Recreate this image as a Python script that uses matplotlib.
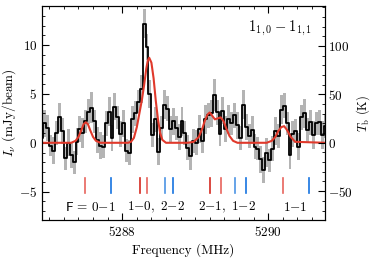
import numpy as np
import matplotlib
matplotlib.use("Agg")
import matplotlib.pyplot as plt
from matplotlib.ticker import MultipleLocator

plt.rcParams['font.family'] = 'serif'
plt.rcParams['font.serif'] = ['cmr10']
plt.rcParams['mathtext.fontset'] = 'cm'
plt.rcParams['axes.formatter.use_mathtext'] = True
plt.rcParams['font.size'] = 9.5

# spectrum, channels of 0.04 MHz starting at 5286.90 MHz
f0 = 5286.90
dchan = 0.04
flux = [0.5, 2.0, 1.5, -0.3, -0.8, 1.0, 2.6, 1.2, -1.6, 0.0,
        -1.3, -2.0, 0.1, 1.4, 1.0, 2.2, 3.2, 3.6, 2.2, 0.3,
        -0.3, -0.4, 2.0, 3.2, 0.5, 3.7, 2.6, 0.9, 2.0, -0.8,
        -1.0, 2.4, 3.0, 4.2, 5.5, 12.2, 9.8, 5.0, 0.8, 2.4,
        -0.9, 1.5, 3.9, 3.5, 1.4, 2.2, 1.5, 0.6, 2.2, 1.0,
        -0.5, -1.4, 0.2, 0.0, 1.4, 0.2, 2.4, 2.8, 3.0, 4.9,
        3.1, 0.9, 3.3, 1.4, 2.4, 2.0, 2.8, 1.8, 0.5, 3.9,
        1.6, 0.7, 1.3, -0.4, -0.6, -1.7, -2.8, -1.0, -1.8, -0.6,
        1.2, 0.7, 3.4, 3.8, 2.0, -1.3, 0.9, 1.2, -0.4, 2.6,
        3.0, 1.3, 2.1, 0.8, 2.0, 2.1, 0.8, 1.7]
flux_err = [1.2, 1.4, 1.3, 1.1, 1.4, 1.2, 1.5, 1.3, 1.2, 1.4,
            1.3, 1.2, 1.4, 1.3, 1.5, 1.2, 1.3, 1.6, 1.2, 1.3,
            1.4, 1.2, 1.3, 1.5, 1.3, 1.4, 1.2, 1.3, 1.4, 1.2,
            1.3, 1.4, 1.3, 1.2, 1.4, 1.5, 1.3, 1.4, 1.2, 1.3,
            1.4, 1.2, 1.5, 1.3, 1.3, 1.4, 1.2, 1.3, 1.5, 1.2,
            1.3, 1.4, 1.2, 1.3, 1.4, 1.2, 1.5, 1.3, 1.4, 1.6,
            1.3, 1.2, 1.4, 1.3, 1.5, 1.2, 1.3, 1.4, 1.2, 1.5,
            1.3, 1.2, 1.4, 1.3, 1.2, 1.4, 1.3, 1.5, 1.2, 1.3,
            1.4, 1.2, 1.5, 1.3, 1.2, 1.4, 1.3, 1.2, 1.4, 1.3,
            1.5, 1.2, 1.3, 1.4, 1.2, 1.3, 1.4, 1.2]
freq = f0 + dchan * np.arange(len(flux))

# fitted model
model_freq = [5286.90, 5287.30, 5287.36, 5287.40, 5287.44, 5287.47, 5287.50,
              5287.53, 5287.56, 5287.60, 5287.64, 5287.70,
              5288.08, 5288.12, 5288.16, 5288.20, 5288.24, 5288.27, 5288.30,
              5288.33, 5288.35, 5288.37, 5288.40, 5288.43, 5288.46, 5288.49,
              5288.52, 5288.55, 5288.60,
              5288.90, 5288.98, 5289.05, 5289.10, 5289.13, 5289.17, 5289.20,
              5289.23, 5289.27, 5289.31, 5289.35, 5289.39, 5289.43, 5289.47,
              5289.52, 5289.58,
              5289.98, 5290.05, 5290.10, 5290.14, 5290.18, 5290.22, 5290.26,
              5290.31, 5290.37, 5290.78]
model_flux = [0.0, 0.0, 0.2, 0.6, 1.3, 1.9, 2.1,
              1.9, 1.3, 0.6, 0.2, 0.0,
              0.0, 0.1, 0.5, 1.6, 3.2, 4.4, 5.9,
              7.6, 8.4, 8.7, 8.2, 6.6, 4.3, 2.4,
              1.0, 0.3, 0.0,
              0.0, 0.1, 0.6, 1.5, 2.2, 2.9, 3.1,
              2.8, 2.4, 2.5, 2.6, 2.2, 1.4, 0.7,
              0.2, 0.0,
              0.0, 0.2, 0.6, 1.2, 1.6, 1.7, 1.3,
              0.6, 0.1, 0.0]

# hyperfine component positions
red_lines = [5287.49, 5288.24, 5288.34, 5289.20, 5289.35, 5290.20]
red_cols = ['#e8645c', '#d42a20', '#e8645c', '#d42a20', '#e8645c', '#e8645c']
blue_lines = [5287.84, 5288.59, 5288.69, 5289.55, 5289.70, 5290.56]
blue_cols = ['#1573e0', '#4c94e4', '#1573e0', '#4c94e4', '#1573e0', '#1573e0']

labels = [r'$\mathsf{F}\,=\,0{-}1$', r'$1{-}0,\ 2{-}2$', r'$2{-}1,\ 1{-}2$', r'$1{-}1$']
label_x = [5287.56, 5288.46, 5289.44, 5290.37]

fig = plt.figure(figsize=(3.73, 2.59), dpi=100)
ax = fig.add_axes([0.1126, 0.1506, 0.7587, 0.8264])

lo = np.array(flux) - np.array(flux_err)
hi = np.array(flux) + np.array(flux_err)
ax.fill_between(freq, lo, hi, step='mid', color='#b4b4b4', lw=0)
ax.step(freq, flux, where='mid', color='black', lw=1.3)
ax.plot(model_freq, model_flux, color='#e0392b', lw=1.5)

for x, c in zip(red_lines, red_cols):
    ax.plot([x, x], [-3.6, -5.15], color=c, lw=1.2)
for x, c in zip(blue_lines, blue_cols):
    ax.plot([x, x], [-3.6, -5.15], color=c, lw=1.2)
for x, t in zip(label_x, labels):
    ax.text(x, -6.6, t, ha='center', va='center', fontsize=9.5)

ax.text(0.955, 0.895, r'$1_{1,0} - 1_{1,1}$', transform=ax.transAxes,
        ha='right', va='center', fontsize=10.5)

ax.set_xlim(5286.90, 5290.78)
ax.set_ylim(-7.9, 14.0)
ax.xaxis.set_major_locator(MultipleLocator(2))
ax.xaxis.set_minor_locator(MultipleLocator(0.2))
ax.yaxis.set_major_locator(MultipleLocator(5))
ax.yaxis.set_minor_locator(MultipleLocator(1))
ax.tick_params(which='both', direction='in', top=True, right=False)
ax.tick_params(which='major', length=5)
ax.tick_params(which='minor', length=2.5)
ax.set_xlabel('Frequency (MHz)', labelpad=3)
ax.set_ylabel(r'$I_\nu$ (mJy/beam)', labelpad=1)
ax.xaxis.get_major_formatter().set_useOffset(False)

k_per_mjy = 10.1
ax2 = ax.twinx()
ax2.set_ylim(-7.9 * k_per_mjy, 14.0 * k_per_mjy)
ax2.yaxis.set_major_locator(MultipleLocator(50))
ax2.yaxis.set_minor_locator(MultipleLocator(10))
ax2.tick_params(which='both', direction='in', pad=2.5)
ax2.tick_params(which='major', length=5)
ax2.tick_params(which='minor', length=2.5)
ax2.set_ylabel(r'$T_\mathrm{b}$ (K)', labelpad=1, fontsize=9)

fig.savefig('out.png', dpi=100)
